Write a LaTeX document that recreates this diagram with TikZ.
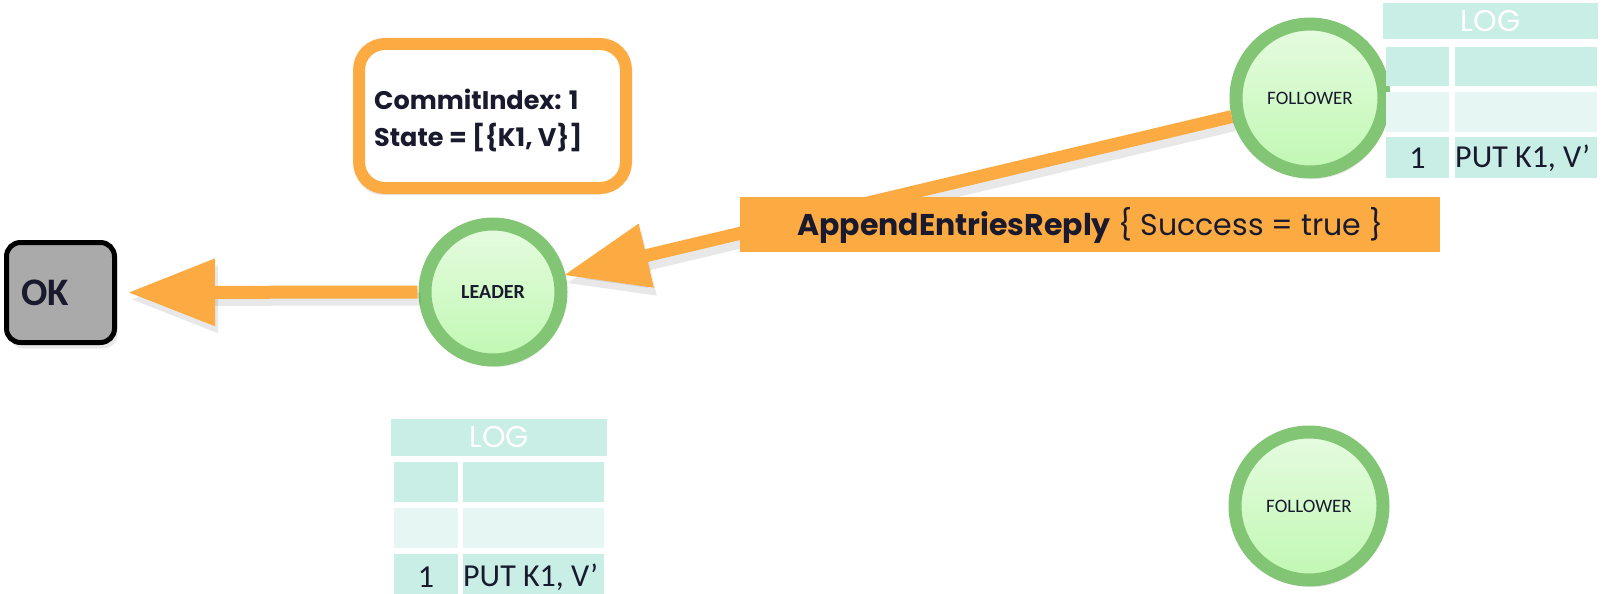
\documentclass[tikz,border=0pt]{standalone}
\usepackage{fontspec}
\setmainfont{Carlito}
\newfontfamily\geo{Poppins}
\usetikzlibrary{arrows.meta,shadows}
\definecolor{orng}{RGB}{252,170,66}
\definecolor{ring}{RGB}{130,197,116}
\definecolor{intop}{RGB}{230,251,224}
\definecolor{inbot}{RGB}{192,248,178}
\definecolor{tdark}{RGB}{200,238,230}
\definecolor{tlight}{RGB}{230,246,242}
\definecolor{ink}{RGB}{26,26,46}
\definecolor{okgray}{RGB}{170,170,170}
\tikzset{
  srvnode/.style={circle, draw=ring, line width=13pt, top color=intop, bottom color=inbot,
    minimum size=#1, inner sep=0pt, text=ink,
    drop shadow={shadow xshift=3pt, shadow yshift=-7pt, opacity=.16}},
  cell/.style={fill=#1, inner sep=0pt, outer sep=0pt, anchor=north west},
  celltxt/.style={text=ink, inner sep=0pt, font=\fontsize{32}{32}\selectfont},
  fatarrow/.style={draw=orng, line width=13pt},
  arrshadow/.style={draw=black, opacity=.09, line width=13pt},
}
\begin{document}
\begin{tikzpicture}[x=1pt,y=-1pt]
\useasboundingbox (0,0) rectangle (1604,594);
% ---------- OK box
\node[draw=black, line width=5pt, fill=okgray, rounded corners=14pt,
      minimum width=108pt, minimum height=100pt, inner sep=0pt,
      drop shadow={shadow xshift=3pt, shadow yshift=-6pt, opacity=.18}] (ok) at (60.5,292.5) {};
\node[anchor=west, text=ink, font=\bfseries\fontsize{39}{39}\selectfont, inner sep=0pt] (oktxt) at (21,293) {OK};
% ---------- commit box
\node[draw=orng, line width=12pt, fill=white, rounded corners=26pt,
      minimum width=267pt, minimum height=144pt, inner sep=0pt,
      drop shadow={shadow xshift=-3pt, shadow yshift=-7pt, opacity=.18}] (commit) at (492.5,116) {};
\node[anchor=west, align=left, text=ink, inner sep=0pt,
      font=\geo\bfseries\fontsize{25.5}{37}\selectfont] (committxt) at (374,120)
      {CommitIndex: 1\\State = [\{K1, V\}]};
% ---------- servers
\node[srvnode=136pt, font=\bfseries\fontsize{20}{20}\selectfont] (leader) at (493,292) {LEADER};
\node[srvnode=148pt, font=\fontsize{19}{19}\selectfont] (f1) at (1310,98) {FOLLOWER};
\node[srvnode=148pt, font=\fontsize{19}{19}\selectfont] (f2) at (1309,506) {FOLLOWER};
% ---------- top log table
\node[cell=tdark, minimum width=215pt, minimum height=36pt, text=white,
      font=\geo\fontsize{30}{30}\selectfont] (tlog) at (1383,3) {LOG};
\node[cell=tdark, minimum width=63pt, minimum height=39pt] (t11) at (1386,47) {};
\node[cell=tdark, minimum width=142pt, minimum height=39pt] (t12) at (1455,47) {};
\node[cell=tlight, minimum width=63pt, minimum height=40pt] (t21) at (1386,92) {};
\node[cell=tlight, minimum width=142pt, minimum height=40pt] (t22) at (1455,92) {};
\node[cell=tdark, minimum width=63pt, minimum height=41pt] (t31) at (1386,137) {};
\node[cell=tdark, minimum width=142pt, minimum height=41pt] (t32) at (1455,137) {};
\node[celltxt] (t31txt) at ([yshift=-1pt]t31.center) {1};
\node[celltxt, anchor=west] (t32txt) at ([xshift=0pt,yshift=-1pt]t32.west) {PUT K1, V’};
% ---------- bottom log table
\node[cell=tdark, minimum width=216pt, minimum height=37pt, text=white,
      font=\geo\fontsize{30}{30}\selectfont] (blog) at (391,419) {LOG};
\node[cell=tdark, minimum width=64pt, minimum height=40pt] (b11) at (394,462) {};
\node[cell=tdark, minimum width=141pt, minimum height=40pt] (b12) at (463,462) {};
\node[cell=tlight, minimum width=64pt, minimum height=40pt] (b21) at (394,508) {};
\node[cell=tlight, minimum width=141pt, minimum height=40pt] (b22) at (463,508) {};
\node[cell=tdark, minimum width=64pt, minimum height=42pt] (b31) at (394,554) {};
\node[cell=tdark, minimum width=141pt, minimum height=42pt] (b32) at (463,554) {};
\node[celltxt] (b31txt) at ([yshift=-2pt]b31.center) {1};
\node[celltxt, anchor=west] (b32txt) at ([yshift=-2pt]b32.west) {PUT K1, V’};
% ---------- arrows
\draw[arrshadow, -{Triangle[length=87pt,width=64pt]}, shorten >=11pt, shorten <=1pt,
      transform canvas={xshift=3pt,yshift=-7pt}] (leader.west) -- (ok.east);
\draw[fatarrow, -{Triangle[length=87pt,width=64pt,fill=orng]}, shorten >=11pt, shorten <=1pt]
      (leader.west) -- (ok.east);
\draw[arrshadow, -{Triangle[length=85pt,width=62pt]}, shorten >=-2pt,
      transform canvas={xshift=3pt,yshift=-8pt}] (f1) -- (leader);
\draw[fatarrow, -{Triangle[length=85pt,width=62pt,fill=orng]}, shorten >=-2pt] (f1) -- (leader);
% ---------- banner
\node[fill=orng, minimum width=700pt, minimum height=55pt, inner sep=0pt, anchor=north west] (banner) at (740,197) {};
\node[anchor=west, text=ink, inner sep=0pt, font=\geo\fontsize{30}{30}\selectfont] (bannertxt) at (797,225)
      {\textbf{AppendEntriesReply} \{ Success = true \}};
\end{tikzpicture}
\end{document}
